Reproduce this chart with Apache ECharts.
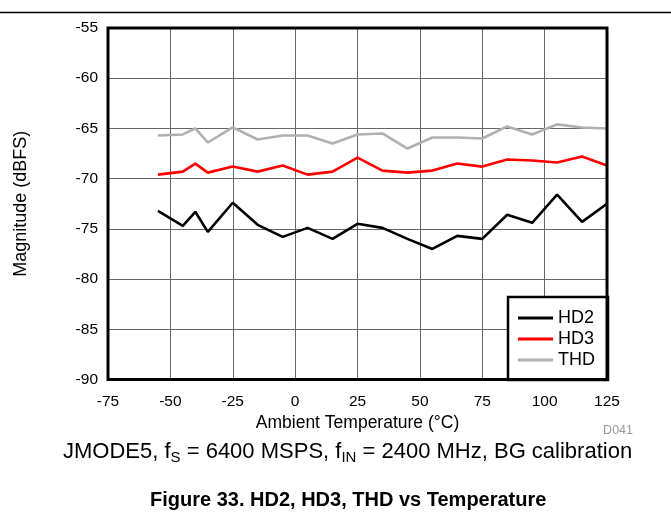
<!DOCTYPE html>
<html>
<head>
<meta charset="utf-8">
<script src="https://cdn.jsdelivr.net/npm/echarts@6/dist/echarts.min.js"></script>
<style>
  html, body { margin: 0; padding: 0; background: #fff; }
  #chart { width: 671px; height: 514px; }
</style>
</head>
<body>
<div id="chart"></div>
<script>
// HD2 / HD3 / THD vs ambient temperature
var temps = [-55, -45, -40, -35, -25, -15, -5, 5, 15, 25, 35, 45, 55, 65, 75, 85, 95, 105, 115, 125];
var hd2 = [-73.2, -74.7, -73.3, -75.3, -72.4, -74.6, -75.8, -74.9, -76.0, -74.5, -74.9, -76.0, -77.0, -75.7, -76.0, -73.6, -74.4, -71.6, -74.3, -72.5];
var hd3 = [-69.6, -69.3, -68.5, -69.4, -68.8, -69.3, -68.7, -69.6, -69.3, -67.9, -69.2, -69.4, -69.2, -68.5, -68.8, -68.1, -68.2, -68.4, -67.8, -68.7];
var thd = [-65.7, -65.6, -65.0, -66.4, -64.9, -66.1, -65.7, -65.7, -66.5, -65.6, -65.5, -67.0, -65.9, -65.9, -66.0, -64.8, -65.6, -64.6, -64.9, -65.0];
var seriesNames = ['HD2', 'HD3', 'THD'];
var seriesColors = ['#000000', '#ff0000', '#b0b0b0'];

function pairs(xs, ys) {
	var out = [];
	for (var i = 0; i < xs.length; i++) {
		out.push([xs[i], ys[i]]);
	}
	return out;
}

var font = 'Liberation Sans, Arial, sans-serif';
var myChart = echarts.init(document.getElementById('chart'));
var allData = [hd2, hd3, thd];
var series = [];
for (var i = 0; i < seriesNames.length; i++) {
	series.push({
		name: seriesNames[i],
		type: 'line',
		data: pairs(temps, allData[i]),
		symbol: 'none',
		z: 3 - i + 2,
		lineStyle: { color: seriesColors[i], width: 2.6 },
		itemStyle: { color: seriesColors[i] }
	});
}

var option = {
	animation: false,
	backgroundColor: '#fff',
	grid: {
		left: 108, right: 64, top: 28, bottom: 134.5,
		show: true,
		borderColor: '#000',
		borderWidth: 3,
		z: 10
	},
	legend: {
		orient: 'vertical',
		right: 63,
		bottom: 134,
		data: seriesNames,
		icon: 'rect',
		itemWidth: 35,
		itemHeight: 3,
		itemGap: 3,
		padding: [12, 13, 11, 10],
		borderColor: '#000',
		borderWidth: 2.5,
		backgroundColor: '#fff',
		textStyle: { fontFamily: font, fontSize: 18, color: '#000' }
	},
	xAxis: {
		type: 'value',
		min: -75, max: 125, interval: 25,
		name: 'Ambient Temperature (°C)',
		nameLocation: 'middle',
		nameGap: 31,
		nameTextStyle: { fontFamily: font, fontSize: 17.5, color: '#000' },
		axisLine: { show: false },
		axisTick: { show: false },
		axisLabel: { margin: 14, fontFamily: font, fontSize: 15.5, color: '#000' },
		splitLine: { show: true, lineStyle: { color: '#666', width: 1 } }
	},
	yAxis: {
		type: 'value',
		min: -90, max: -55, interval: 5,
		name: 'Magnitude (dBFS)',
		nameLocation: 'middle',
		nameGap: 78,
		nameTextStyle: { fontFamily: font, fontSize: 18, color: '#000' },
		axisLine: { show: false },
		axisTick: { show: false },
		axisLabel: { margin: 10, fontFamily: font, fontSize: 15.5, color: '#000' },
		splitLine: { show: true, lineStyle: { color: '#666', width: 1 } }
	},
	graphic: [
		{
			type: 'line',
			shape: { x1: 0, y1: 12.5, x2: 671, y2: 12.5 },
			style: { stroke: '#000', lineWidth: 1.5 }
		},
		{
			type: 'text',
			right: 38, top: 424,
			style: { text: 'D041', fontFamily: font, fontSize: 12.5, fill: '#999' }
		},
		{
			type: 'text',
			left: 63, top: 441,
			style: {
				text: 'JMODE5, f{sub|S} = 6400 MSPS, f{sub|IN} = 2400 MHz, BG calibration',
				fontFamily: font, fontSize: 22, fill: '#000',
				rich: {
					sub: { fontFamily: font, fontSize: 15, fill: '#000', padding: [12, 0, 0, 0] }
				}
			}
		},
		{
			type: 'text',
			left: 150, top: 490,
			style: {
				text: 'Figure 33. HD2, HD3, THD vs Temperature',
				fontFamily: font, fontSize: 20, fontWeight: 'bold', fill: '#000'
			}
		}
	],
	series: series
};
option && myChart.setOption(option);
</script>
</body>
</html>
